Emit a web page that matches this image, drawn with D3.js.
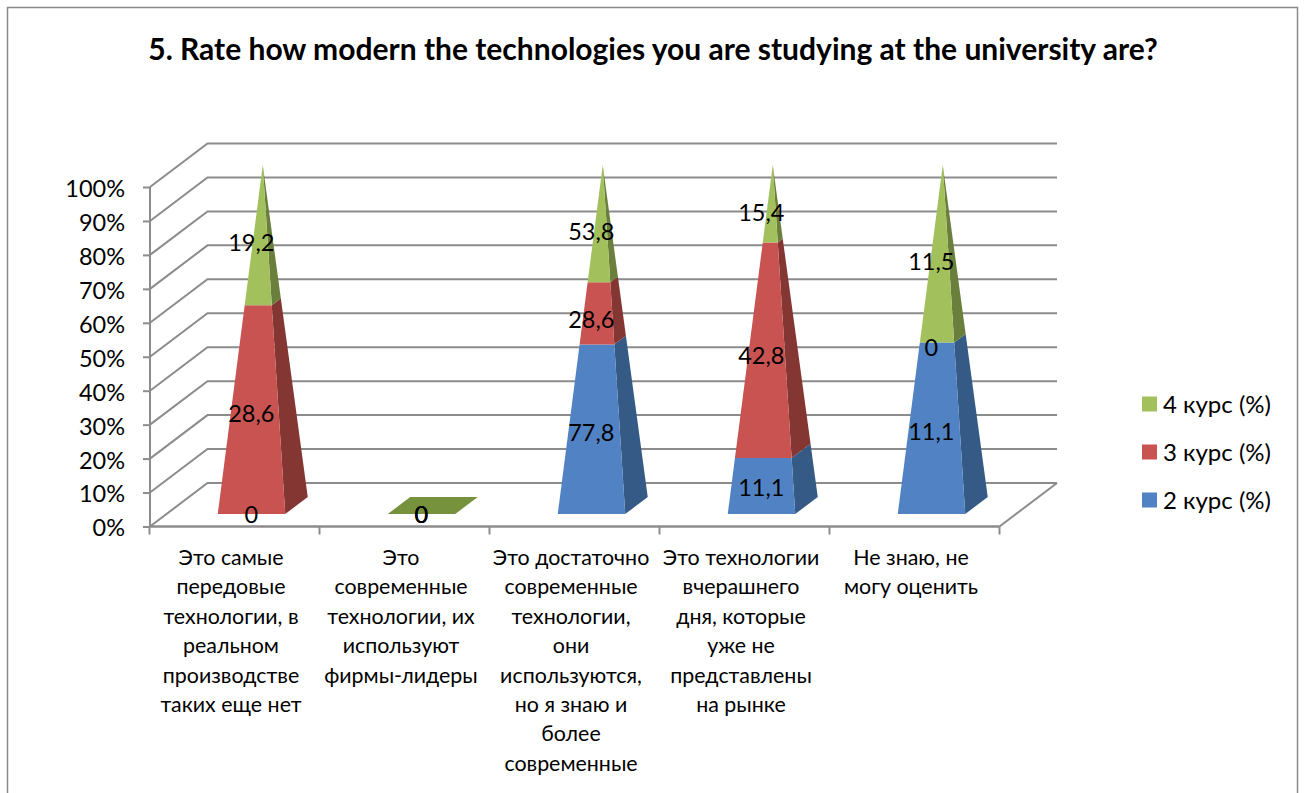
<!DOCTYPE html>
<html>
<head>
<meta charset="utf-8">
<script src="https://cdnjs.cloudflare.com/ajax/libs/d3/7.8.5/d3.min.js"></script>
<style>
    html, body { margin: 0; padding: 0; background: #fff; }
    svg { display: block; }
    text { font-family: Lato, "Noto Sans", sans-serif; fill: #000; }
</style>
</head>
<body>
<div id="chart"></div>
<script>
const chartTitle = "5. Rate how modern the technologies you are studying at the university are?";
const categories = [
    ["Это самые", "передовые", "технологии, в", "реальном", "производстве", "таких еще нет"],
    ["Это", "современные", "технологии, их", "используют", "фирмы-лидеры"],
    ["Это достаточно", "современные", "технологии,", "они", "используются,", "но я знаю и", "более", "современные"],
    ["Это технологии", "вчерашнего", "дня, которые", "уже не", "представлены", "на рынке"],
    ["Не знаю, не", "могу оценить"]
];
const seriesNames = ["2 курс (%)", "3 курс (%)", "4 курс (%)"];
const course2 = [0, 0, 77.8, 11.1, 11.1];
const course3 = [28.6, 0, 28.6, 42.8, 0];
const course4 = [19.2, 0, 53.8, 15.4, 11.5];
const yTicks = [0, 10, 20, 30, 40, 50, 60, 70, 80, 90, 100];

const frontColors = ["#5183c4", "#c95350", "#a2c15d"];
const sideColors = ["#355a85", "#843633", "#6b7f3c"];
const flatColor = "#76923c";
const gridColor = "#8c8c8c";

const width = 1305, height = 793;
const svg = d3.select("#chart").append("svg").attr("width", width).attr("height", height);

// chart border, runs off the bottom of the picture
svg.append("path")
    .attr("d", "M7.5,800V7.5H1297.5V800")
    .attr("fill", "none").attr("stroke", "#8a8a8a").attr("stroke-width", 1.5);

svg.append("text")
    .attr("x", 653).attr("y", 60)
    .attr("text-anchor", "middle")
    .attr("font-size", 30).attr("font-weight", 700)
    .text(chartTitle);

// 3d box of the plot
const depthX = 57.5, depthY = -43.5;
const x = d3.scaleBand().domain(d3.range(categories.length)).range([149.5, 999.5]);
const yAxisScale = d3.scaleLinear().domain([0, 100]).range([526.5, 187]);

const grid = svg.append("g").attr("fill", "none").attr("stroke", gridColor).attr("stroke-width", 2);
yTicks.forEach(t => {
    const yy = yAxisScale(t);
    grid.append("path").attr("d", `M150,${yy}L${150 + depthX},${yy + depthY}H1057`);
});
grid.append("path").attr("d", `M999.5,526.5L${999.5 + depthX},${526.5 + depthY}`);

const yAxis = svg.append("g")
    .attr("transform", "translate(150,0)")
    .call(d3.axisLeft(yAxisScale).tickValues(yTicks).tickSize(7).tickPadding(18).tickFormat(d => d + "%"));
yAxis.selectAll("line").attr("stroke", gridColor).attr("stroke-width", 2);
yAxis.select(".domain").attr("d", "M0,187V526.5").attr("stroke", gridColor).attr("stroke-width", 2);
yAxis.selectAll("text").attr("font-size", 23.5).attr("dy", "0.4em").style("font-family", "Lato, sans-serif");

const xAxis = svg.append("g")
    .attr("transform", "translate(0,526.5)");
xAxis.append("path").attr("d", "M149.5,0H999.5").attr("stroke", gridColor).attr("stroke-width", 2.5);
d3.range(categories.length + 1).forEach(i => {
    const xx = 149.5 + i * x.step();
    xAxis.append("line").attr("x1", xx).attr("x2", xx).attr("y1", 0).attr("y2", 8)
        .attr("stroke", gridColor).attr("stroke-width", 2);
});

categories.forEach((lines, i) => {
    const label = svg.append("text")
        .attr("text-anchor", "middle").attr("font-size", 21.4);
    lines.forEach((line, k) => {
        label.append("tspan")
            .attr("x", x(i) + x.bandwidth() / 2 - 3.5)
            .attr("y", 565 + k * 29.4)
            .text(line);
    });
});

// pyramids: every course is a share of the column's total
const rows = categories.map((c, i) => ({ i, 0: course2[i], 1: course3[i], 2: course4[i] }));
const stacked = d3.stack().keys([0, 1, 2]).offset(d3.stackOffsetExpand)(rows);

const baseY = 505.5, pyramidHeight = 340.5;
const level = d3.scaleLinear().domain([0, 1]).range([baseY, baseY - pyramidHeight]);
const frontLeft = [-45, 8.5], frontRight = [22.5, 8.5], backRight = [45, -8.5], backLeft = [-22.5, -8.5];
const centerX = i => x(i) + x.bandwidth() / 2 + depthX / 2 - 0.5;

const corner = (i, t, c) => [centerX(i) + c[0] * (1 - t), level(t) + c[1] * (1 - t)];
const pts = list => list.map(p => p.join(",")).join(" ");

const pyramids = svg.append("g");
rows.forEach(row => {
    const i = row.i;
    const total = course2[i] + course3[i] + course4[i];
    if (total === 0) {
        pyramids.append("polygon")
            .attr("points", pts([frontLeft, frontRight, backRight, backLeft].map(c => corner(i, 0, c))))
            .attr("fill", flatColor);
        return;
    }
    stacked.forEach((s, k) => {
        const [t0, t1] = s[i];
        if (t1 - t0 <= 0) return;
        pyramids.append("polygon")
            .attr("points", pts([corner(i, t0, frontRight), corner(i, t0, backRight), corner(i, t1, backRight), corner(i, t1, frontRight)]))
            .attr("fill", sideColors[k]);
        pyramids.append("polygon")
            .attr("points", pts([corner(i, t0, frontLeft), corner(i, t0, frontRight), corner(i, t1, frontRight), corner(i, t1, frontLeft)]))
            .attr("fill", frontColors[k]);
    });
});

// data labels sit in the front plane of the base, at the middle of each segment
const labels = svg.append("g").attr("text-anchor", "middle").attr("font-size", 23.5);
const seriesValues = [course2, course3, course4];
stacked.forEach((s, k) => {
    rows.forEach(row => {
        const i = row.i;
        const mid = (s[i][0] + s[i][1]) / 2;
        labels.append("text")
            .attr("x", centerX(i) - 11.5)
            .attr("y", level(mid) + 9.5)
            .attr("dy", "0.36em")
            .text(String(seriesValues[k][i]).replace(".", ","));
    });
});

// legend, top entry is the last series
const legendY = d3.scalePoint().domain([2, 1, 0]).range([404, 500]);
const legend = svg.append("g");
[2, 1, 0].forEach(k => {
    legend.append("rect")
        .attr("x", 1142).attr("y", legendY(k) - 7.5)
        .attr("width", 15).attr("height", 15)
        .attr("fill", frontColors[k]);
    legend.append("text")
        .attr("x", 1163).attr("y", legendY(k))
        .attr("dy", "0.36em")
        .attr("font-size", 24)
        .text(seriesNames[k]);
});
</script>
</body>
</html>
